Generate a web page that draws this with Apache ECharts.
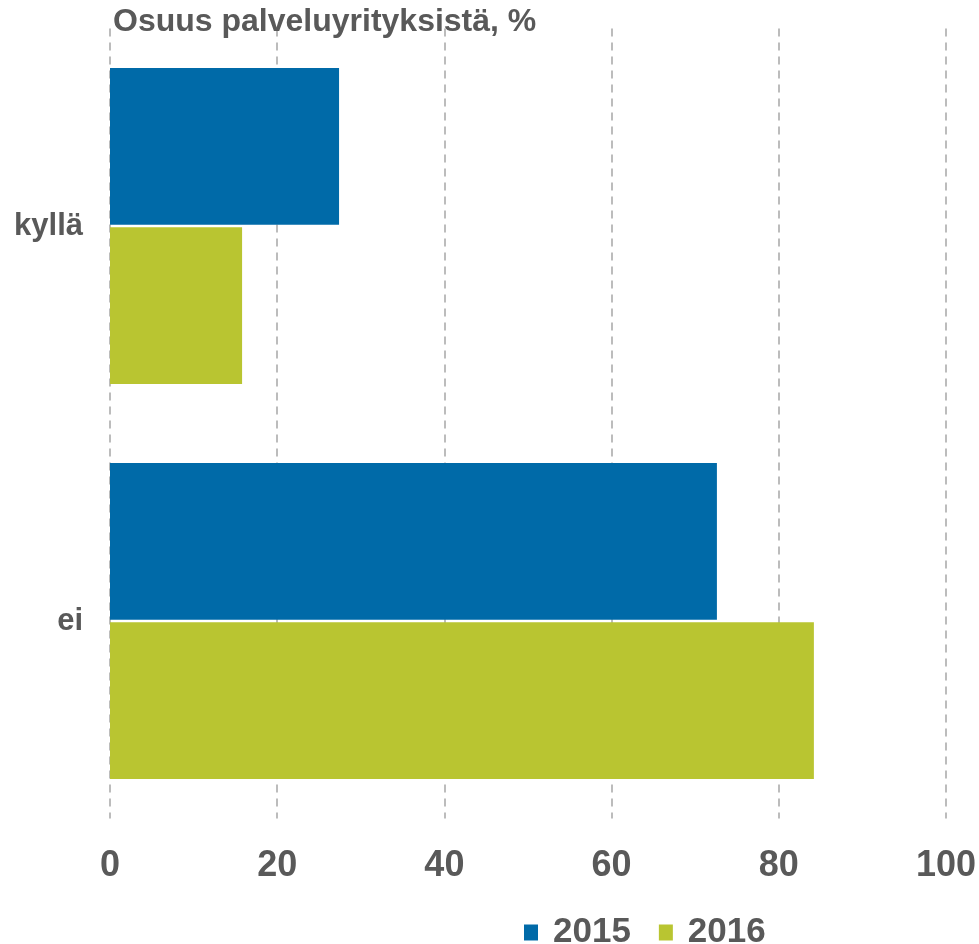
<!DOCTYPE html>
<html>
<head>
<meta charset="utf-8">
<script src="https://cdn.jsdelivr.net/npm/echarts@6/dist/echarts.min.js"></script>
<style>html,body{margin:0;padding:0;background:#fff}#c{width:979px;height:944px}</style>
</head>
<body>
<div id="c"></div>
<script>
const categories = ['kyllä', 'ei'];
const seriesNames = ['2015', '2016'];
const values2015 = [27.4, 72.6];
const values2016 = [15.8, 84.2];
const xTicks = [0, 20, 40, 60, 80, 100];
const titleText = 'Osuus palveluyrityksistä, %';

const txt = '#595959';
const font = '"Liberation Sans", Arial, sans-serif';
const chart = echarts.init(document.getElementById('c'), null, {renderer: 'canvas'});
chart.setOption({
  animation: false,
  textStyle: {fontFamily: font},
  title: {
    text: titleText, left: 108, top: 1,
    textStyle: {fontSize: 32, fontWeight: 'bold', color: txt, fontFamily: font}
  },
  legend: {
    data: seriesNames, left: 519, top: 910, itemWidth: 14, itemHeight: 16, itemGap: 28,
    textStyle: {fontSize: 35, fontWeight: 'bold', color: txt, fontFamily: font, padding: [0,0,0,10]},
    icon: 'rect'
  },
  grid: {left: 110, right: 33, top: 28.5, bottom: 125.5, containLabel: false},
  xAxis: {
    type: 'value', min: xTicks[0], max: xTicks[xTicks.length-1], interval: 20,
    axisLine: {show: false}, axisTick: {show: false},
    splitLine: {show: true, lineStyle: {color: '#A6A6A6', width: 1.5, type: [8, 6]}},
    axisLabel: {fontSize: 36, fontWeight: 'bold', color: txt, margin: 30, fontFamily: font}
  },
  yAxis: {
    type: 'category', data: categories, inverse: true,
    axisLine: {show: false}, axisTick: {show: false},
    axisLabel: {fontSize: 31, fontWeight: 'bold', color: txt, margin: 27, fontFamily: font}
  },
  series: [
    {name: seriesNames[0], type: 'bar', data: values2015, barCategoryGap: '20%', barGap: '1.5%',
     itemStyle: {color: '#006AA8'}},
    {name: seriesNames[1], type: 'bar', data: values2016, barCategoryGap: '20%', barGap: '1.5%',
     itemStyle: {color: '#B9C531'}}
  ]
});
</script>
</body>
</html>
